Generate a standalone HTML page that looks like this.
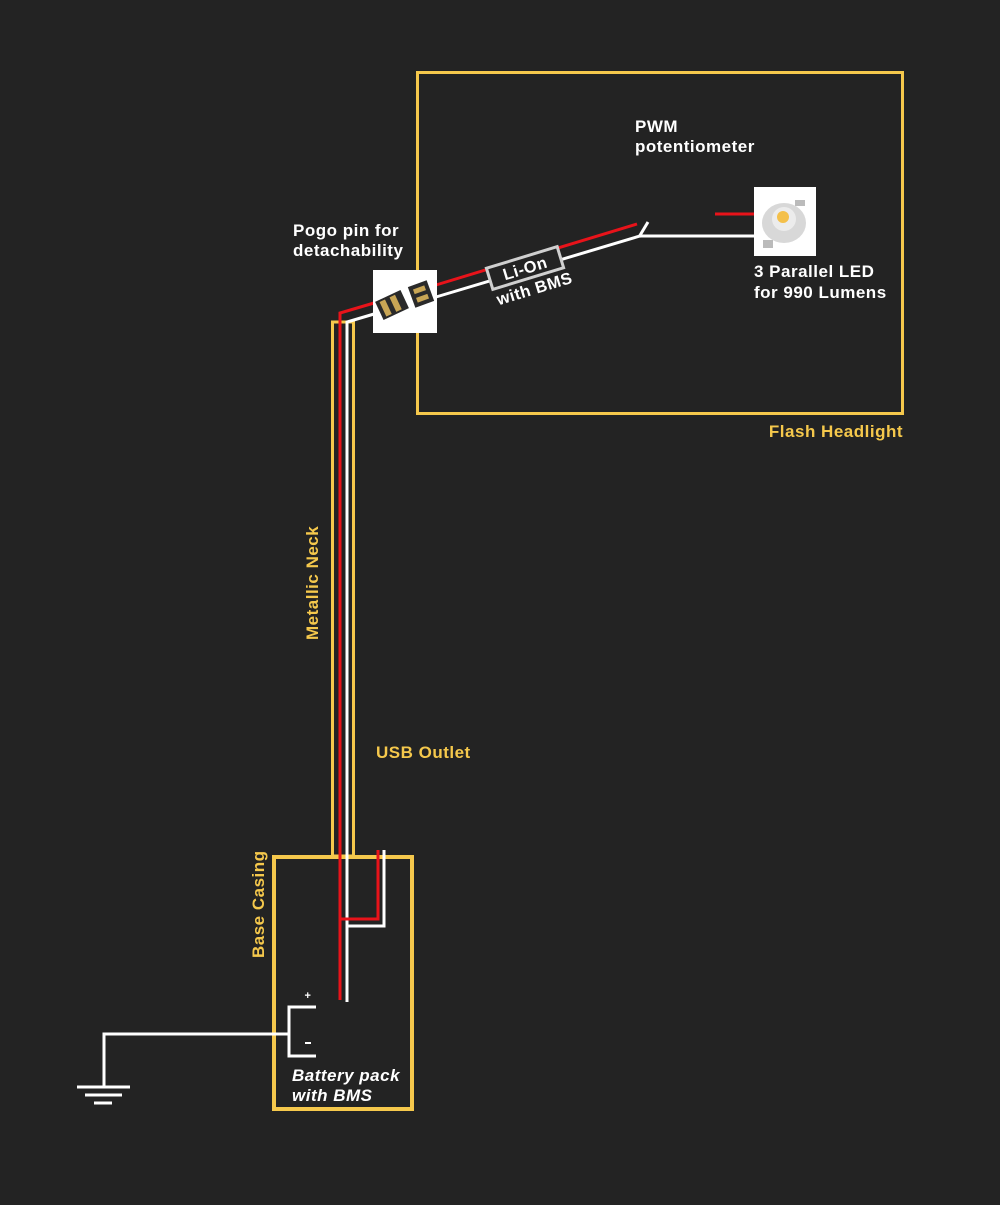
<!DOCTYPE html>
<html><head><meta charset="utf-8"><style>
html,body{margin:0;padding:0;background:#232323;}
svg{display:block}
text{font-family:"Liberation Sans",sans-serif;font-weight:bold;letter-spacing:0.5px;}
</style></head><body>
<svg width="1000" height="1205" viewBox="0 0 1000 1205" xmlns="http://www.w3.org/2000/svg">
<rect width="1000" height="1205" fill="#232323"/>
<rect x="417.5" y="72.5" width="485" height="341" fill="none" stroke="#f5c84c" stroke-width="3"/>
<text x="903" y="437" text-anchor="end" font-size="17" fill="#f5c84c">Flash Headlight</text>
<rect x="332.5" y="322" width="21" height="534" fill="none" stroke="#f5c84c" stroke-width="3"/>
<rect x="274" y="857" width="138" height="252" fill="#232323" stroke="#f5c84c" stroke-width="4"/>
<polyline points="340,1000 340,313 374,303" fill="none" stroke="#e8131a" stroke-width="3"/>
<polyline points="347,1002 347,322 374,314" fill="none" stroke="#fff" stroke-width="3"/>
<polyline points="341,919 378,919 378,850" fill="none" stroke="#e8131a" stroke-width="3"/>
<polyline points="348,926 384,926 384,850" fill="none" stroke="#fff" stroke-width="3"/>
<line x1="436" y1="285" x2="637" y2="224" stroke="#e8131a" stroke-width="3"/>
<polyline points="436,297 640,236 755,236" fill="none" stroke="#fff" stroke-width="3"/>
<line x1="639" y1="237" x2="648" y2="222" stroke="#fff" stroke-width="3"/>
<line x1="715" y1="214" x2="755" y2="214" stroke="#e8131a" stroke-width="3"/>
<g transform="translate(525,268) rotate(-17)">
<rect x="-37" y="-11" width="74" height="22" fill="#232323" stroke="#cfcfcf" stroke-width="3"/>
<text x="0" y="6" text-anchor="middle" font-size="16.5" fill="#fff">Li-On</text>
<text x="3" y="28" text-anchor="middle" font-size="16.5" fill="#fff">with BMS</text>
</g>
<rect x="373" y="270" width="64" height="63" fill="#fff"/>
<g transform="translate(392,305) rotate(-25)"><rect x="-14" y="-10" width="28" height="20" fill="#2a2a2a"/><rect x="-10" y="-8" width="6" height="16" fill="#c9a655"/><rect x="1" y="-8" width="6" height="16" fill="#c9a655"/></g>
<g transform="translate(421,294) rotate(-20)"><rect x="-10" y="-11" width="20" height="22" fill="#2a2a2a"/><rect x="-6" y="-7" width="12" height="5" fill="#c9a655"/><rect x="-6" y="2" width="12" height="5" fill="#c9a655"/></g>
<rect x="754" y="187" width="62" height="69" fill="#fff"/>
<ellipse cx="784" cy="223" rx="22" ry="20" fill="#d8d8d8"/>
<circle cx="784" cy="219" r="12" fill="#ececec"/>
<circle cx="783" cy="217" r="6" fill="#f4c04a"/>
<rect x="795" y="200" width="10" height="6" fill="#bbb"/>
<rect x="763" y="240" width="10" height="8" fill="#bbb"/>
<polyline points="316,1007 289,1007 289,1056 316,1056" fill="none" stroke="#fff" stroke-width="3"/>
<text x="308" y="999" text-anchor="middle" font-size="11" fill="#fff">+</text>
<line x1="305" y1="1043" x2="311" y2="1043" stroke="#fff" stroke-width="2"/>
<polyline points="289,1034 104,1034 104,1087" fill="none" stroke="#fff" stroke-width="3"/>
<line x1="77" y1="1087" x2="130" y2="1087" stroke="#fff" stroke-width="3"/>
<line x1="85" y1="1095" x2="122" y2="1095" stroke="#fff" stroke-width="3"/>
<line x1="94" y1="1103" x2="112" y2="1103" stroke="#fff" stroke-width="3"/>
<text x="635" y="132" font-size="17" fill="#fff">PWM</text>
<text x="635" y="152" font-size="17" fill="#fff">potentiometer</text>
<text x="293" y="236" font-size="17" fill="#fff">Pogo pin for</text>
<text x="293" y="256" font-size="17" fill="#fff">detachability</text>
<text x="754" y="277" font-size="17" fill="#fff">3 Parallel LED</text>
<text x="754" y="298" font-size="17" fill="#fff">for 990 Lumens</text>
<text x="376" y="758" font-size="17" fill="#f5c84c">USB Outlet</text>
<text transform="translate(318,640) rotate(-90)" font-size="17" fill="#f5c84c">Metallic Neck</text>
<text transform="translate(264,958) rotate(-90)" font-size="17" fill="#f5c84c">Base Casing</text>
<text x="292" y="1081" font-size="17" font-style="italic" fill="#fff">Battery pack</text>
<text x="292" y="1101" font-size="17" font-style="italic" fill="#fff">with BMS</text>
</svg>
</body></html>
